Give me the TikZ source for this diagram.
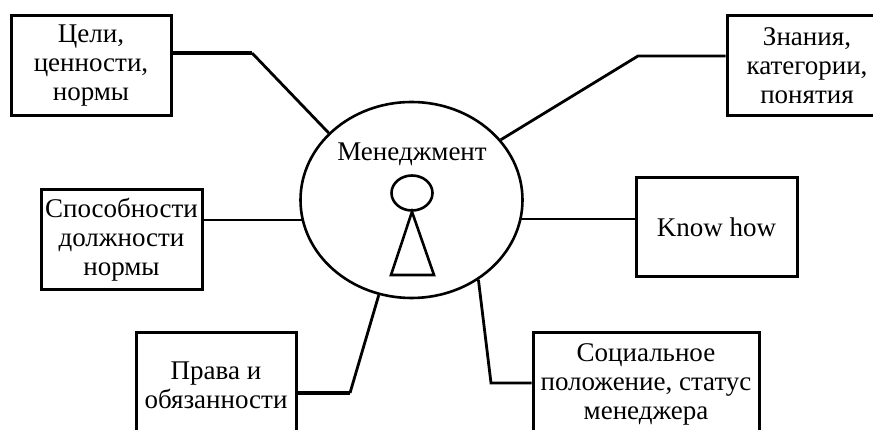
\documentclass[tikz,border=0pt]{standalone}
\usepackage{fontspec}
\setmainfont{Liberation Serif}
\usetikzlibrary{shapes.geometric}
\tikzset{
	boxnode/.style={draw, line width=3pt, inner sep=0pt, align=center, font=\fontsize{27}{29}\selectfont},
	linkline/.style={line width=2.8pt, miter limit=10},
	heavyline/.style={line width=4pt},
	figline/.style={line width=2.6pt}
}

\begin{document}
\begin{tikzpicture}[x=1pt, y=-1pt]
	\useasboundingbox (0, 0) rectangle (873, 430);
	\clip (0, 0) rectangle (873, 430);
	
	\node[boxnode, minimum width=160pt, minimum height=100pt] (goals) at (91, 66) {Цели,\\ценности,\\нормы};
	\node[boxnode, minimum width=161pt, minimum height=100pt] (abilities) at (121.5, 240) {Способности\\должности\\нормы};
	\node[boxnode, minimum width=160pt, minimum height=105pt] (rights) at (216, 385.5) {Права и\\обязанности};
	\node[boxnode, minimum width=160pt, minimum height=100pt] (knowledge) at (807, 66) {Знания,\\категории,\\понятия};
	\node[boxnode, minimum width=161pt, minimum height=99pt] (knowhow) at (716.5, 227.5) {Know how};
	\node[boxnode, minimum width=226pt, minimum height=102pt] (status) at (646, 384) {Социальное\\положение, статус\\менеджера};
	
	\node[draw, ellipse, figline, minimum width=222pt, minimum height=196pt, inner sep=0pt] (mgmt) at (411.5, 200) {};
	\node[font=\fontsize{27}{29}\selectfont, inner sep=0pt] (mgmtlabel) at (412, 154) {Менеджмент};
	
	\node[draw, ellipse, figline, minimum width=41pt, minimum height=35pt, inner sep=0pt] (head) at (412, 193) {};
	\coordinate (bodyl) at (391, 275);
	\coordinate (bodyr) at (434, 275);
	\draw[figline] (head.south) -- (bodyl) -- (bodyr) -- cycle;
	
	\coordinate (goalsbend) at (252, 53);
	\coordinate (rightsbend) at (350, 393);
	\coordinate (knowledgebend) at (638, 56);
	\coordinate (statusbend) at (491, 383);
	
	\draw[heavyline] (goals.east |- goalsbend) -- (goalsbend);
	\draw[linkline] (goalsbend) -- (mgmt.141.6);
	\draw[linkline] (abilities.east |- 0, 220) -- ([xshift=3pt]mgmt.west |- 0, 220);
	\draw[heavyline] (rights.east |- rightsbend) -- (rightsbend);
	\draw[linkline] (rightsbend) -- (mgmt.251);
	\draw[linkline] (knowledge.west |- knowledgebend) -- (knowledgebend) -- (mgmt.34.7);
	\draw[linkline] (knowhow.west |- 0, 219) -- ([xshift=-3pt]mgmt.east |- 0, 219);
	\draw[linkline] (status.west |- statusbend) -- (statusbend) -- (mgmt.310);
\end{tikzpicture}
\end{document}
